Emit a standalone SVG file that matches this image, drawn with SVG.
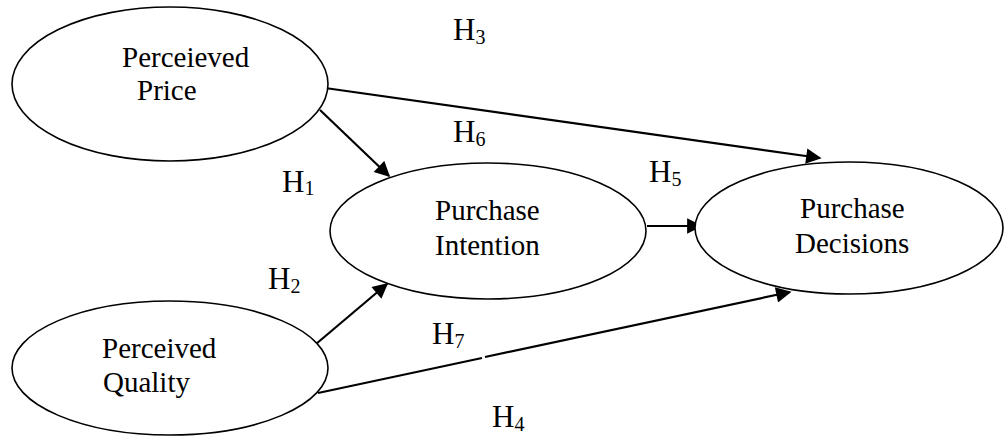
<svg xmlns="http://www.w3.org/2000/svg" width="1004" height="436" viewBox="0 0 1004 436">
<style>
.node ellipse{fill:#fff;stroke:#000;stroke-width:1.6}
.lbl{font-family:"Liberation Serif","Times New Roman",serif;font-size:29px;fill:#000}
.h{font-family:"Liberation Serif","Times New Roman",serif;font-size:31px;fill:#000}
.sub{font-size:20px}
.conn{stroke:#000;stroke-width:2.2;fill:none}
</style>
<defs>
<marker id="arrB" viewBox="0 0 10 10" refX="9" refY="5" markerWidth="7.5" markerHeight="7" orient="auto">
<path d="M0,0 L10,5 L0,10 z" fill="#000"/>
</marker>
</defs>
<g id="connectors">
<line class="conn" x1="318" y1="87" x2="820" y2="158" marker-end="url(#arrB)"/>
<line class="conn" x1="320" y1="110" x2="389" y2="176" marker-end="url(#arrB)"/>
<line class="conn" x1="647" y1="226" x2="701" y2="226" marker-end="url(#arrB)"/>
<line class="conn" x1="316" y1="344" x2="387" y2="284" marker-end="url(#arrB)"/>
<path class="conn" d="M318,393 L482,358"/>
<line class="conn" x1="485" y1="357" x2="790" y2="292" marker-end="url(#arrB)"/>
</g>
<g id="n-price" class="node">
<ellipse cx="170" cy="84" rx="158" ry="77"/>
<text class="lbl" x="122" y="67">Perceieved</text>
<text class="lbl" x="137" y="100">Price</text>
</g>
<g id="n-intention" class="node">
<ellipse cx="488" cy="231" rx="158" ry="68"/>
<text class="lbl" x="435" y="220">Purchase</text>
<text class="lbl" x="435" y="255">Intention</text>
</g>
<g id="n-decisions" class="node">
<ellipse cx="849" cy="228" rx="154" ry="66"/>
<text class="lbl" x="800" y="218">Purchase</text>
<text class="lbl" x="795" y="253">Decisions</text>
</g>
<g id="n-quality" class="node">
<ellipse cx="170" cy="368" rx="158" ry="67"/>
<text class="lbl" x="102" y="358">Perceived</text>
<text class="lbl" x="103" y="392">Quality</text>
</g>
<g id="labels">
<text class="h" x="453" y="40">H<tspan class="sub" dy="4">3</tspan></text>
<text class="h" x="282" y="192">H<tspan class="sub" dy="3">1</tspan></text>
<text class="h" x="453" y="142">H<tspan class="sub" dy="4">6</tspan></text>
<text class="h" x="649" y="182">H<tspan class="sub" dy="4">5</tspan></text>
<text class="h" x="268" y="289">H<tspan class="sub" dy="4">2</tspan></text>
<text class="h" x="432" y="344">H<tspan class="sub" dy="4">7</tspan></text>
<text class="h" x="492" y="427">H<tspan class="sub" dy="4">4</tspan></text>
</g>
</svg>
